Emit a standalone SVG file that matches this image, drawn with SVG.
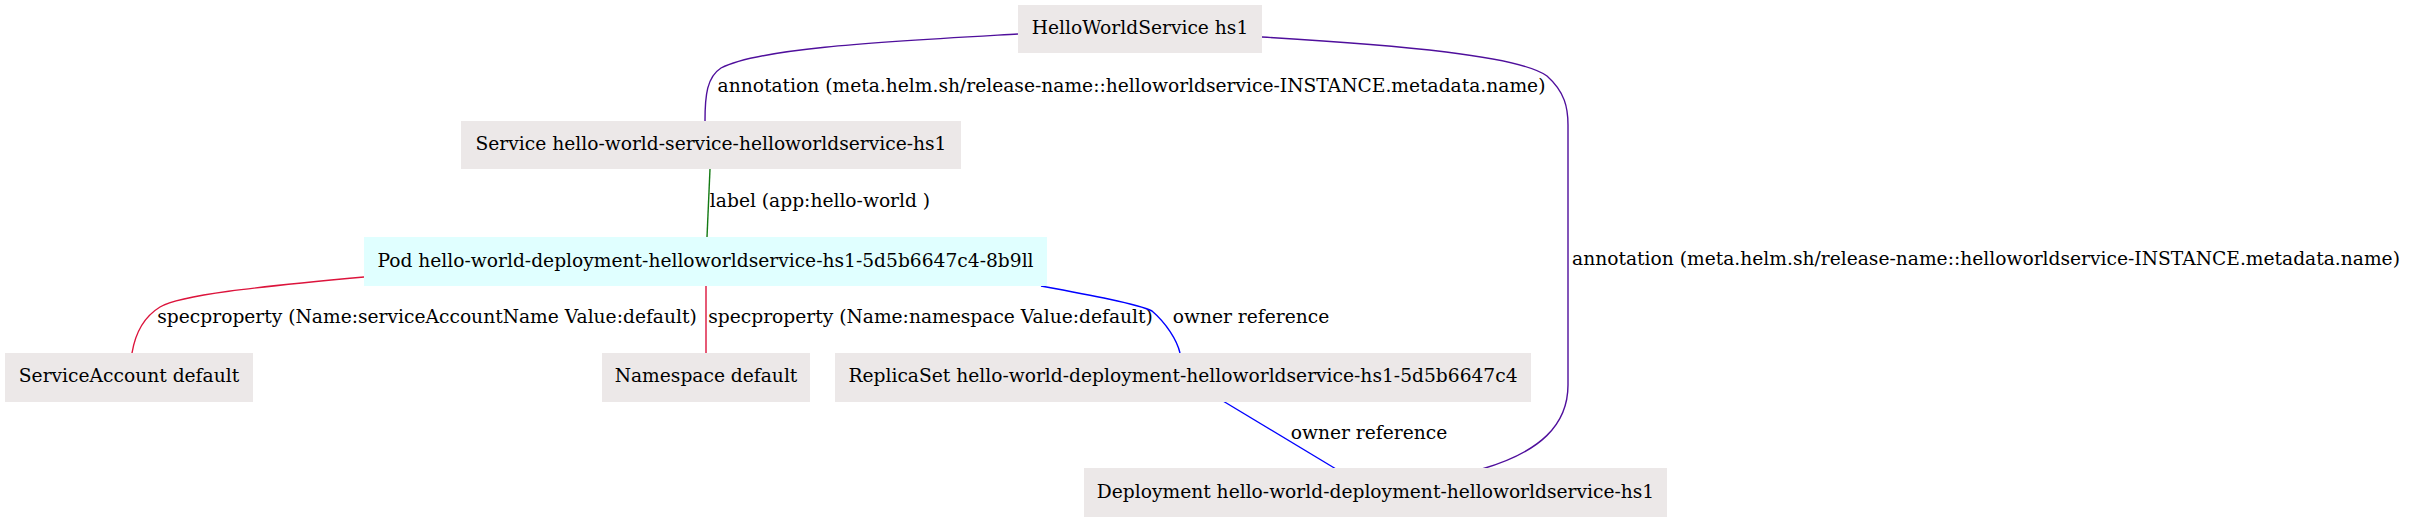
<svg xmlns="http://www.w3.org/2000/svg" width="2410" height="523" viewBox="0 0 2410 523">
<style>
  text { font-family: "DejaVu Serif", "Liberation Serif", serif; font-size: 18.67px; fill: #000; }
  .nl { text-anchor: middle; }
  .el { text-anchor: middle; }
  .box { fill: #ece8e8; stroke: none; }
  .pod { fill: #e0ffff; stroke: none; }
  .e { fill: none; stroke-width: 1.4; }
  .purple { stroke: #4f0f9c; }
  .green { stroke: #137a13; }
  .red { stroke: #dc143c; }
  .blue { stroke: #0000ff; }
</style>
<rect width="2410" height="523" fill="#ffffff"/>
<g id="connectors">
  <g id="e-hws-svc">
    <path class="e purple" d="M1018,34 C880,42 760,48 721,68 C707,77 705,95 705,121"/>
    <text class="el" x="1131.5" y="92">annotation (meta.helm.sh/release-name::helloworldservice-INSTANCE.metadata.name)</text>
  </g>
  <g id="e-hws-dep">
    <path class="e purple" d="M1262,37 C1400,45 1520,56 1547,76 C1565,92 1568,108 1568,125 L1568,385 C1568,425 1540,452 1482,469"/>
    <text class="el" x="1986" y="265">annotation (meta.helm.sh/release-name::helloworldservice-INSTANCE.metadata.name)</text>
  </g>
  <g id="e-svc-pod">
    <path class="e green" d="M710,169 L707,237"/>
    <text class="el" x="820" y="207">label (app:hello-world )</text>
  </g>
  <g id="e-pod-sa">
    <path class="e red" d="M364,277 C255,287 180,295 160,307 C142,318 135,335 132,353"/>
    <text class="el" x="427" y="323">specproperty (Name:serviceAccountName Value:default)</text>
  </g>
  <g id="e-pod-ns">
    <path class="e red" d="M706,286 L706,353"/>
    <text class="el" x="930.5" y="323">specproperty (Name:namespace Value:default)</text>
  </g>
  <g id="e-pod-rs">
    <path class="e blue" d="M1041,286 C1090,295 1138,304 1152,311 C1166,323 1177,340 1180,353"/>
    <text class="el" x="1251" y="323">owner reference</text>
  </g>
  <g id="e-rs-dep">
    <path class="e blue" d="M1223,401 L1336,469"/>
    <text class="el" x="1369" y="439">owner reference</text>
  </g>
</g>
<g id="node-hws">
  <rect class="box" x="1018" y="5" width="244" height="48"/>
  <text class="nl" x="1140" y="34">HelloWorldService hs1</text>
</g>
<g id="node-svc">
  <rect class="box" x="461" y="121" width="500" height="48"/>
  <text class="nl" x="711" y="150">Service hello-world-service-helloworldservice-hs1</text>
</g>
<g id="node-pod">
  <rect class="pod" x="364" y="237" width="683" height="49"/>
  <text class="nl" x="705.5" y="267">Pod hello-world-deployment-helloworldservice-hs1-5d5b6647c4-8b9ll</text>
</g>
<g id="node-sa">
  <rect class="box" x="5" y="353" width="248" height="49"/>
  <text class="nl" x="129" y="382">ServiceAccount default</text>
</g>
<g id="node-ns">
  <rect class="box" x="602" y="353" width="208" height="49"/>
  <text class="nl" x="706" y="382">Namespace default</text>
</g>
<g id="node-rs">
  <rect class="box" x="835" y="353" width="696" height="49"/>
  <text class="nl" x="1183" y="382">ReplicaSet hello-world-deployment-helloworldservice-hs1-5d5b6647c4</text>
</g>
<g id="node-dep">
  <rect class="box" x="1084" y="468" width="583" height="49"/>
  <text class="nl" x="1375.5" y="498">Deployment hello-world-deployment-helloworldservice-hs1</text>
</g>
</svg>
